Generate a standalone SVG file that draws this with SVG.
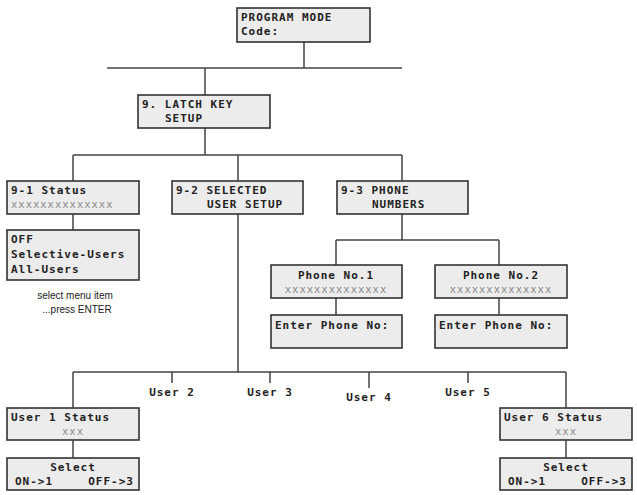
<svg xmlns="http://www.w3.org/2000/svg" width="637" height="495" viewBox="0 0 637 495">
<style>
.b{fill:#ececec;stroke:#333;stroke-width:1.6}
.t{font-family:"DejaVu Sans Mono",monospace;font-weight:bold;font-size:11px;fill:#222;letter-spacing:1px}
.x{font-family:"DejaVu Sans Mono",monospace;font-size:10.5px;fill:#888;letter-spacing:1px}
.n{font-family:"Liberation Sans",sans-serif;font-size:10px;fill:#222}
.c{stroke:#444;stroke-width:1.5;fill:none}
</style>
<rect width="637" height="495" fill="#fff"/>
<g id="connectors" class="c">
<path d="M304 42V68M107 68H402M205 68V95M205 128V155M73 155H402M73 155V181M238 155V181M402 155V181M73 214V230M402 214V240M336 240H499M336 240V265M499 240V265M336 298V315M499 298V315M238 214V372M73 372H566M73 372V408M566 372V408M172 372V383M270 372V383M369 372V388M468 372V383M73 440V458M566 440V458"/>
</g>
<g id="program"><rect class="b" x="237" y="8" width="133" height="34"/><text class="t" x="241" y="21">PROGRAM MODE</text><text class="t" x="241" y="35">Code:</text></g>
<g id="latch"><rect class="b" x="138" y="95" width="132" height="33"/><text class="t" x="142" y="108">9. LATCH KEY</text><text class="t" x="165" y="122">SETUP</text></g>
<g id="status"><rect class="b" x="7" y="181" width="132" height="33"/><text class="t" x="11" y="194">9-1 Status</text><text class="x" x="11" y="208">xxxxxxxxxxxxxx</text></g>
<g id="selected"><rect class="b" x="172" y="181" width="131" height="33"/><text class="t" x="176" y="194">9-2 SELECTED</text><text class="t" x="207" y="208">USER SETUP</text></g>
<g id="phones"><rect class="b" x="337" y="181" width="131" height="33"/><text class="t" x="341" y="194">9-3 PHONE</text><text class="t" x="372" y="208">NUMBERS</text></g>
<g id="options"><rect class="b" x="7" y="230" width="132" height="50"/><text class="t" x="11" y="243">OFF</text><text class="t" x="11" y="258">Selective-Users</text><text class="t" x="11" y="273">All-Users</text></g>
<g id="hint"><text class="n" x="75" y="299" text-anchor="middle">select menu item</text><text class="n" x="77" y="313" text-anchor="middle">...press ENTER</text></g>
<g id="phone1"><rect class="b" x="271" y="265" width="131" height="33"/><text class="t" x="336" y="279" text-anchor="middle">Phone No.1</text><text class="x" x="336" y="293" text-anchor="middle">xxxxxxxxxxxxxx</text></g>
<g id="phone2"><rect class="b" x="435" y="265" width="132" height="33"/><text class="t" x="501" y="279" text-anchor="middle">Phone No.2</text><text class="x" x="501" y="293" text-anchor="middle">xxxxxxxxxxxxxx</text></g>
<g id="enter1"><rect class="b" x="271" y="315" width="131" height="33"/><text class="t" x="275" y="329">Enter Phone No:</text></g>
<g id="enter2"><rect class="b" x="435" y="315" width="132" height="33"/><text class="t" x="439" y="329">Enter Phone No:</text></g>
<g id="users"><text class="t" x="172" y="396" text-anchor="middle">User 2</text><text class="t" x="270" y="396" text-anchor="middle">User 3</text><text class="t" x="369" y="401" text-anchor="middle">User 4</text><text class="t" x="468" y="396" text-anchor="middle">User 5</text></g>
<g id="user1"><rect class="b" x="7" y="408" width="132" height="32"/><text class="t" x="11" y="421">User 1 Status</text><text class="x" x="73" y="435" text-anchor="middle">xxx</text></g>
<g id="user6"><rect class="b" x="500" y="408" width="132" height="32"/><text class="t" x="504" y="421">User 6 Status</text><text class="x" x="566" y="435" text-anchor="middle">xxx</text></g>
<g id="select1"><rect class="b" x="7" y="458" width="132" height="32"/><text class="t" x="73" y="471" text-anchor="middle">Select</text><text class="t" x="15" y="485">ON-&gt;1</text><text class="t" x="134" y="485" text-anchor="end">OFF-&gt;3</text></g>
<g id="select6"><rect class="b" x="500" y="458" width="132" height="32"/><text class="t" x="566" y="471" text-anchor="middle">Select</text><text class="t" x="508" y="485">ON-&gt;1</text><text class="t" x="627" y="485" text-anchor="end">OFF-&gt;3</text></g>
</svg>
